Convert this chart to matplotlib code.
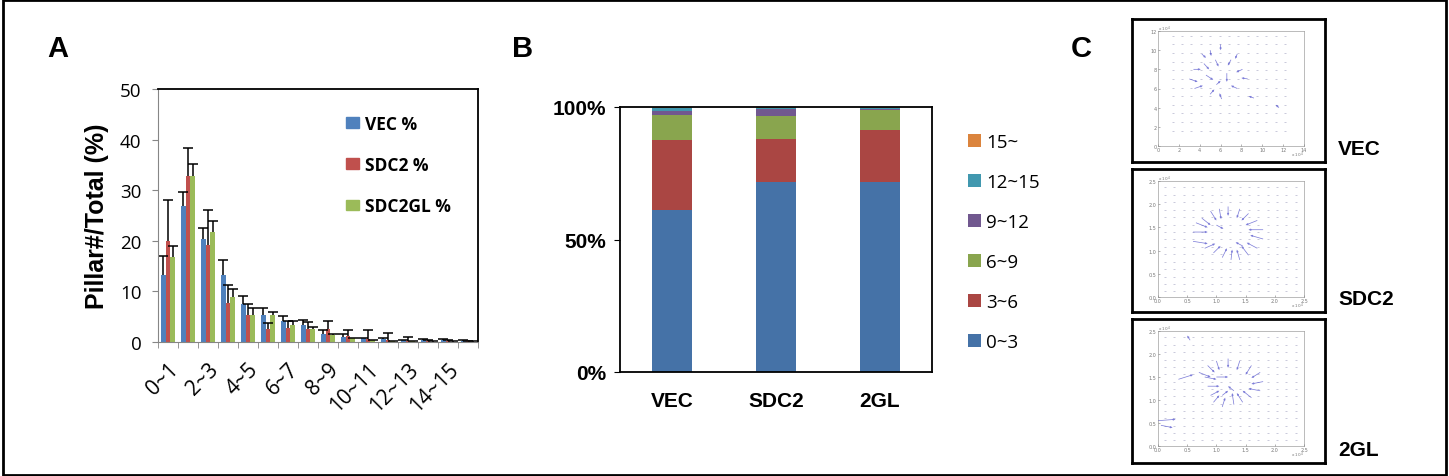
import numpy as np
import matplotlib.pyplot as plt
from matplotlib.patches import Patch, Rectangle

W, H = 1449, 477

# ---- panel A: pillar count distribution (%), mean and upper error
bins_a = ['0~1', '1~2', '2~3', '3~4', '4~5', '5~6', '6~7', '7~8',
          '8~9', '9~10', '10~11', '11~12', '12~13', '13~14', '14~15', '15~']
vec_pct = [13.3, 26.8, 20.4, 13.3, 7.6, 5.4, 4.2, 3.4, 1.6, 1.0, 0.7, 0.5, 0.3, 0.3, 0.3, 0.2]
vec_err = [3.7, 2.9, 2.1, 2.9, 1.5, 1.4, 0.9, 0.9, 0.7, 0.6, 0.1, 0.2, 0.1, 0.3, 0.3, 0.1]
sdc2_pct = [19.9, 32.8, 19.1, 7.8, 5.4, 2.5, 2.8, 2.5, 2.6, 1.2, 0.5, 0.3, 0.2, 0.1, 0.1, 0.1]
sdc2_err = [8.1, 5.5, 7.0, 3.5, 2.2, 1.3, 1.3, 1.4, 1.6, 1.2, 1.9, 1.5, 0.7, 0.2, 0.2, 0.1]
gl_pct = [16.7, 32.8, 21.8, 8.9, 5.4, 5.4, 3.3, 2.5, 1.4, 0.7, 0.3, 0.1, 0.1, 0.05, 0.05, 0.05]
gl_err = [2.2, 2.3, 2.1, 1.6, 1.3, 0.5, 0.8, 0.5, 0.1, 0.1, 0.1, 0.1, 0.1, 0.05, 0.05, 0.05]
series_a = ['VEC %', 'SDC2 %', 'SDC2GL %']

# ---- panel B: stacked share per group
groups_b = ['VEC', 'SDC2', '2GL']
ranges_b = ['0~3', '3~6', '6~9', '9~12', '12~15', '15~']
share_0_3 = [61.0, 71.7, 71.7]
share_3_6 = [26.4, 16.4, 19.8]
share_6_9 = [9.5, 8.5, 7.2]
share_9_12 = [1.6, 2.8, 0.6]
share_12_15 = [1.2, 0.4, 0.5]
share_15 = [0.3, 0.2, 0.2]

# ---- panel C: traction vector maps (x, y, u, v) for the strong arrows
vec_x = [3.0, 3.4, 3.5, 4.4, 4.6, 5.0, 5.5, 6.0, 6.6, 7.0, 7.6, 8.1, 7.6, 6.1, 5.0, 8.6, 9.2, 11.6, 4.2, 5.6]
vec_y = [7.0, 8.0, 6.0, 8.6, 7.4, 10.0, 9.0, 10.6, 7.6, 9.0, 9.6, 8.0, 6.0, 4.9, 5.4, 7.0, 5.0, 4.0, 9.6, 6.4]
vec_u = [0.8, 0.7, 0.8, 0.5, 0.7, 0.1, 0.3, 0.0, 0.0, -0.3, -0.2, -0.6, -0.6, -0.2, 0.4, -0.6, -0.5, -0.3, 0.4, 0.4]
vec_v = [-0.3, 0.0, 0.3, -0.6, -0.5, -0.6, -0.7, -0.6, -0.9, -0.6, -0.5, -0.3, 0.3, 0.6, 0.5, 0.1, 0.2, 0.3, -0.4, 0.4]

sdc2_x = [0.60, 0.60, 0.65, 0.75, 0.90, 1.05, 1.20, 1.40, 1.55, 1.70, 1.80, 1.80, 1.70, 1.55, 1.40, 1.25, 1.10, 0.95, 0.80, 1.00, 1.45]
sdc2_y = [1.40, 1.20, 1.60, 1.70, 1.85, 1.90, 1.95, 1.90, 1.80, 1.65, 1.45, 1.25, 1.05, 0.90, 0.80, 0.80, 0.85, 0.95, 1.05, 1.55, 1.10]
sdc2_u = [0.25, 0.25, 0.20, 0.15, 0.10, 0.03, 0.00, -0.05, -0.12, -0.20, -0.25, -0.22, -0.18, -0.12, -0.05, 0.02, 0.08, 0.12, 0.18, 0.12, -0.12]
sdc2_v = [0.00, -0.05, -0.10, -0.15, -0.20, -0.22, -0.20, -0.20, -0.15, -0.10, 0.00, 0.08, 0.12, 0.20, 0.22, 0.22, 0.20, 0.15, 0.10, -0.08, 0.08]

gl_x = [0.35, 0.00, 0.05, 0.55, 0.70, 0.80, 0.85, 0.90, 0.95, 1.10, 1.30, 1.45, 1.60, 1.75, 1.80, 1.75, 1.60, 1.40, 1.20, 1.00, 0.85, 1.10, 1.30, 1.00]
gl_y = [1.45, 0.55, 0.45, 2.30, 1.60, 1.50, 1.30, 1.10, 0.95, 0.85, 0.90, 0.95, 1.05, 1.20, 1.40, 1.60, 1.75, 1.85, 1.90, 1.85, 1.75, 1.10, 1.20, 1.50]
gl_u = [0.25, 0.30, 0.20, -0.05, 0.20, 0.20, 0.20, 0.15, 0.10, 0.05, -0.03, -0.10, -0.15, -0.20, -0.20, -0.15, -0.10, -0.05, 0.00, 0.05, 0.12, 0.10, -0.10, 0.20]
gl_v = [0.10, 0.03, -0.05, 0.10, -0.10, -0.05, 0.00, 0.10, 0.15, 0.20, 0.25, 0.20, 0.15, 0.05, -0.05, -0.12, -0.20, -0.20, -0.20, -0.20, -0.15, 0.10, 0.10, 0.00]

# background grid points of the maps
grid_big_x = [1.4, 2.3, 3.2, 4.1, 5.0, 5.9, 6.8, 7.7, 8.6, 9.5, 10.4, 11.3, 12.2]
grid_big_y = [1.6, 2.5, 3.4, 4.3, 5.2, 6.1, 7.0, 7.9, 8.8, 9.7, 10.6, 11.5]
grid_small = [0.12, 0.28, 0.44, 0.60, 0.76, 0.92, 1.08, 1.24, 1.40, 1.56, 1.72, 1.88, 2.04, 2.20, 2.36]

colors_a = ['#4F81BD', '#C0504D', '#9BBB59']
colors_b = ['#4572A7', '#AA4643', '#89A54E', '#71588F', '#4198AF', '#DB843D']
GRAY = '#868686'
BOLD = 'Liberation Sans'
REG = 'Open Sans'


def px_axes(fig, l, t, r, b):
    return fig.add_axes([l / W, 1 - b / H, (r - l) / W, (b - t) / H])


fig = plt.figure(figsize=(W / 100, H / 100), dpi=100)
fig.patches.append(Rectangle((0.002, 0.003), 0.996, 0.994, transform=fig.transFigure,
                             fill=False, lw=2, ec='black'))

# ================= Panel A =================
ax = px_axes(fig, 158, 90, 478, 343)
x = np.arange(len(bins_a))
bw = 0.23
for i, (vals, errs) in enumerate([(vec_pct, vec_err), (sdc2_pct, sdc2_err), (gl_pct, gl_err)]):
    bc = ax.bar(x + (i - 1) * bw, vals, bw, color=colors_a[i], label=series_a[i],
                yerr=[np.zeros(len(errs)), errs], capsize=3.5,
                error_kw=dict(ecolor='black', elinewidth=1.1, capthick=1.1))
    # plus-only error bars: hide the lower caps
    bc.errorbar.lines[1][0].set_visible(False)
ax.set_xlim(-0.5, len(bins_a) - 0.5)
ax.set_ylim(0, 50)
ax.set_yticks(range(0, 51, 10))
ax.tick_params(axis='y', length=4, color=GRAY, labelsize=13.5, pad=8)
for lab in ax.get_yticklabels():
    lab.set_family(REG)
ax.set_xticks(x[::2])
ax.set_xticklabels(bins_a[::2], rotation=45, ha='right', rotation_mode='anchor',
                   family=REG, fontsize=15)
ax.tick_params(axis='x', length=0, pad=12)
ax.set_xticks(np.arange(-0.5, len(bins_a), 1), minor=True)
ax.tick_params(axis='x', which='minor', length=4, color=GRAY)
for s in ['left', 'bottom']:
    ax.spines[s].set_color(GRAY)
for s in ['top', 'right']:
    ax.spines[s].set_color('black')
    ax.spines[s].set_linewidth(1.3)
ax.set_ylabel('Pillar#/Total (%)', family=BOLD, fontweight='bold', fontsize=18, labelpad=8)
handles = [Patch(color=c) for c in colors_a]
ax.legend(handles, series_a, loc='upper left', bbox_to_anchor=(0.54, 0.96), frameon=False,
          prop=dict(family=REG, weight='bold', size=12.5), handlelength=0.75, handleheight=0.55,
          handletextpad=0.3, labelspacing=1.33)
fig.text(47 / W, 1 - 49 / H, 'A', family=BOLD, fontweight='bold', fontsize=21, va='center')

# ================= Panel B =================
axb = px_axes(fig, 620, 108, 932, 373)
xb = np.arange(len(groups_b))
bottom = np.zeros(len(groups_b))
layers = [share_0_3, share_3_6, share_6_9, share_9_12, share_12_15, share_15]
bars = []
for vals, c, lab in zip(layers, colors_b, ranges_b):
    bars.append(axb.bar(xb, vals, 0.39, bottom=bottom, color=c, label=lab))
    bottom += np.array(vals)
axb.set_xlim(-0.5, 2.5)
axb.set_ylim(0, 100)
axb.set_yticks([0, 50, 100])
axb.set_yticklabels(['0%', '50%', '100%'], family=BOLD, fontweight='bold', fontsize=15)
axb.set_xticks(xb)
axb.set_xticklabels(groups_b, family=BOLD, fontweight='bold', fontsize=15)
axb.tick_params(axis='y', length=4, pad=6)
axb.tick_params(axis='x', length=0, pad=14)
for s in axb.spines.values():
    s.set_linewidth(1.3)
axb.legend(bars[::-1], ranges_b[::-1], loc='upper left', bbox_to_anchor=(1.06, 0.965),
           frameon=False, prop=dict(family=REG, size=13.5), handlelength=0.7,
           handleheight=0.7, handletextpad=0.3, labelspacing=1.17)
fig.text(512 / W, 1 - 49 / H, 'B', family=BOLD, fontweight='bold', fontsize=21, va='center')

# ================= Panel C =================
fig.text(1071 / W, 1 - 49 / H, 'C', family=BOLD, fontweight='bold', fontsize=21, va='center')
boxes = [(20, 163), (170, 313), (320, 464)]
inner = [(32, 147), (182, 298), (332, 447)]
maps = [(vec_x, vec_y, vec_u, vec_v, grid_big_x, grid_big_y, 14, 12, [0, 2, 4, 6, 8, 10, 12, 14], [0, 2, 4, 6, 8, 10, 12]),
        (sdc2_x, sdc2_y, sdc2_u, sdc2_v, grid_small, grid_small, 2.5, 2.5, [0, 0.5, 1, 1.5, 2, 2.5], [0, 0.5, 1, 1.5, 2, 2.5]),
        (gl_x, gl_y, gl_u, gl_v, grid_small, grid_small, 2.5, 2.5, [0, 0.5, 1, 1.5, 2, 2.5], [0, 0.5, 1, 1.5, 2, 2.5])]
names_c = ['VEC', 'SDC2', '2GL']
for (t, b), (it, ib), m, name in zip(boxes, inner, maps, names_c):
    frame = px_axes(fig, 1132, t, 1325, b)
    frame.set_xticks([])
    frame.set_yticks([])
    for s in frame.spines.values():
        s.set_linewidth(2)
    axc = px_axes(fig, 1158, it, 1304, ib)
    mx, my, mu, mv, gx, gy, xmax, ymax, xt, yt = m
    gxx, gyy = np.meshgrid(gx, gy)
    axc.scatter(gxx.ravel(), gyy.ravel(), marker='_', s=2.5, lw=0.5, color='#b4b4cc')
    axc.quiver(mx, my, mu, mv, angles='xy', scale_units='xy', scale=1, color='#4646c8',
               width=0.005, headwidth=3, headlength=3, alpha=0.7)
    axc.set_xlim(0, xmax)
    axc.set_ylim(0, ymax)
    axc.set_xticks(xt)
    axc.set_yticks(yt)
    axc.tick_params(direction='in', length=1.5, width=0.4, labelsize=3.5, pad=1,
                    colors='#777777')
    for s in axc.spines.values():
        s.set_linewidth(0.4)
        s.set_color('#888888')
    axc.text(0, 1.01, 'x 10$^4$', transform=axc.transAxes, fontsize=3, color='#777777')
    axc.text(1.0, -0.09, 'x 10$^4$', transform=axc.transAxes, fontsize=3, color='#777777',
             ha='right')
    fig.text(1338 / W, 1 - (b - 13) / H, name, family=BOLD, fontweight='bold', fontsize=15,
             va='center')

fig.savefig('out.png', dpi=100)
